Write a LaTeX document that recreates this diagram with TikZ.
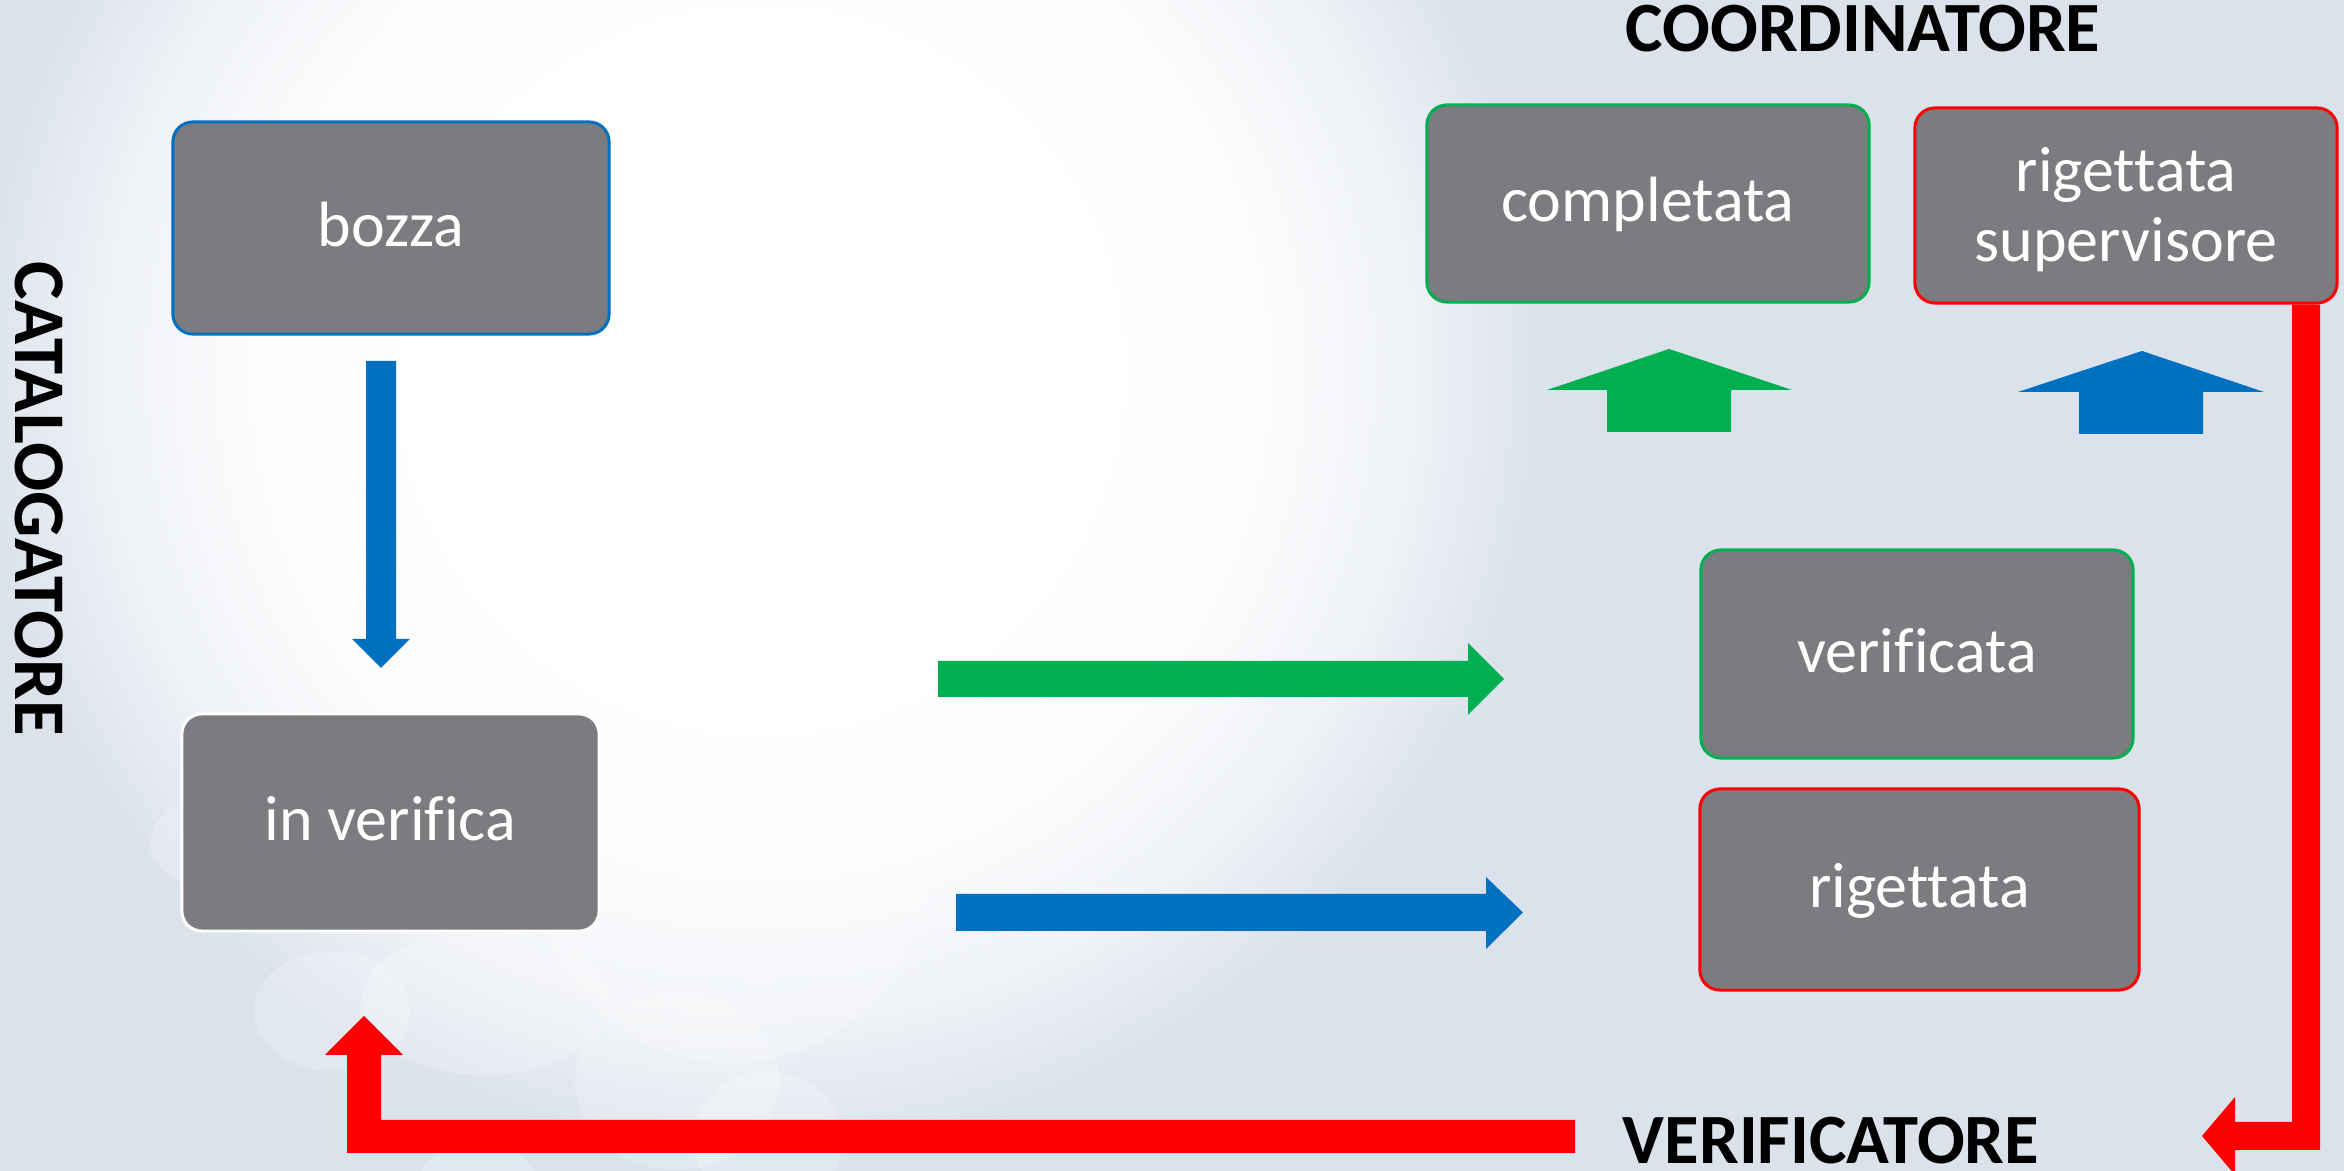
\documentclass[tikz,border=0pt]{standalone}
\usepackage{fontspec}
\setmainfont{Carlito}[Ligatures=NoCommon]
\definecolor{bgc}{RGB}{219,226,236}
\definecolor{boxgray}{RGB}{123,124,128}
\definecolor{cblue}{RGB}{0,112,192}
\definecolor{cgreen}{RGB}{0,176,80}
\definecolor{cred}{RGB}{255,0,0}
\pgfdeclareradialshading{glow}{\pgfpoint{0bp}{0bp}}{color(0bp)=(white); color(11bp)=(white!99!bgc); color(16bp)=(white!88!bgc); color(20.5bp)=(white!55!bgc); color(24.5bp)=(bgc); color(50bp)=(bgc)}
\tikzset{
  state/.style={rectangle, rounded corners=0.2cm, fill=boxgray, line width=0.03cm,
    text=white, font=\fontsize{18.2}{19.9}\selectfont, inner sep=0pt},
  onel/.style={text height=0.366cm, text depth=0pt},
  stlabel/.style={text=white, font=\fontsize{18.2}{19.9}\selectfont, inner sep=0pt, align=center},
  role/.style={font=\bfseries\fontsize{20.1}{23}\selectfont, text=black, inner sep=0pt, text depth=0pt},
  bubble/.style={fill=white, fill opacity=0.22},
}
\begin{document}
\begin{tikzpicture}[x=0.01cm, y=-0.01cm]
\useasboundingbox (0,0) rectangle (2344,1171);
\fill[bgc] (0,0) rectangle (2344,1171);
\begin{scope}
  \clip (0,0) rectangle (2344,1171);
  \shade[shading=glow] (760,370) circle (800);
  \fill[bubble] (220,843) ellipse (70 and 47);
  \fill[bubble] (332,1011) ellipse (78 and 60);
  \fill[bubble] (731,868) ellipse (195 and 195);
  \fill[bubble] (485,1002) ellipse (124 and 73);
  \fill[bubble] (677,1081) ellipse (102 and 89);
  \fill[bubble] (768,1140) ellipse (75 and 68);
  \fill[bubble] (478,1200) ellipse (65 and 60);
\end{scope}

% role labels
\node[role, anchor=base] (coord) at (1863,52) {COORDINATORE};
\node[role, anchor=base] (verif) at (1831,1164) {VERIFICATORE};
\node[role, anchor=base, rotate=-90, font=\bfseries\fontsize{20.7}{23}\selectfont] (catal) at (15,499) {CATALOGATORE};

% state boxes
\node[state, onel, draw=cblue, minimum width=4.36cm, minimum height=2.12cm] (bozza) at (391,228) {bozza};
\node[state, onel, draw=white, minimum width=4.17cm, minimum height=2.17cm] (inverifica) at (390.5,822.5) {in verifica};
\node[state, onel, draw=cgreen, minimum width=4.42cm, minimum height=1.97cm] (completata) at (1648,203.5) {completata};
\node[state, draw=cred, minimum width=4.22cm, minimum height=1.95cm] (rigsup) at (2126,205.5) {};
\node[stlabel] (rigsuptext) at ([yshift=-0.043cm]rigsup.center) {rigettata\\supervisore};
\node[state, onel, draw=cgreen, minimum width=4.32cm, minimum height=2.08cm] (verificata) at (1917,654) {verificata};
\node[state, onel, draw=cred, minimum width=4.39cm, minimum height=2.01cm] (rigettata) at (1919.5,889.5) {rigettata};

% block arrows
\fill[cblue] (366,361) -- (396,361) -- (396,639) -- (410,639) -- (381,668) -- (352,639) -- (366,639) -- cycle;
\fill[cgreen] (938,661) -- (1468,661) -- (1468,643) -- (1504,679) -- (1468,715) -- (1468,697) -- (938,697) -- cycle;
\fill[cblue] (956,894) -- (1486,894) -- (1486,877) -- (1523,912.5) -- (1486,949) -- (1486,931) -- (956,931) -- cycle;
\fill[cgreen] (1607,432) -- (1607,390) -- (1547,390) -- (1669,349) -- (1792,390) -- (1731,390) -- (1731,432) -- cycle;
\fill[cblue] (2079,434) -- (2079,392) -- (2018,392) -- (2142,351) -- (2264,392) -- (2203,392) -- (2203,434) -- cycle;

% red return connectors
\fill[cred] (rigsup.south -| 2292,0) -- (rigsup.south -| 2320,0) -- (2320,1150) -- (2235,1150) -- (2235,1175) -- (2202,1136) -- (2235,1097) -- (2235,1122) -- (2292,1122) -- cycle;
\fill[cred] (1575,1120) -- (1575,1153) -- (347,1153) -- (347,1055) -- (325,1055) -- (364,1016) -- (403,1055) -- (381,1055) -- (381,1120) -- cycle;
\end{tikzpicture}
\end{document}
